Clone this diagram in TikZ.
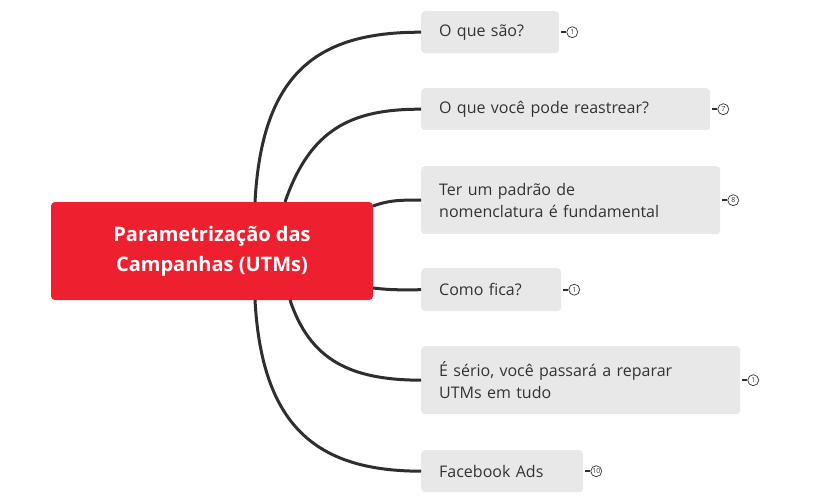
\documentclass[tikz,border=0pt]{standalone}
\usepackage{fontspec}
\usetikzlibrary{positioning}
\setmainfont{Open Sans}
\definecolor{boxg}{HTML}{E8E8E8}
\definecolor{redc}{HTML}{EE1F2F}
\definecolor{txt}{HTML}{333333}
\definecolor{lnc}{HTML}{2E2E2E}
\begin{document}
\begin{tikzpicture}[x=1pt,y=-1pt,
  sub/.style={fill=boxg,rounded corners=4pt,text=txt,anchor=north west,inner xsep=18pt,inner ysep=0pt,align=left,font=\fontsize{16}{22}\selectfont},
  conn/.style={draw=lnc,line width=3pt},
  badge/.style={circle,draw=txt,line width=0.7pt,fill=white,inner sep=0pt,minimum size=11pt,font=\fontsize{7}{7}\selectfont,text=txt}]
\useasboundingbox (0,0) rectangle (813,503);
\node[fill=redc,rounded corners=4pt,text=white,minimum width=322pt,minimum height=98pt,align=center,font=\fontsize{20}{30}\bfseries\selectfont] (c) at (212,251) {Parametrização das\\Campanhas (UTMs)};
\node[sub,text width=102pt,minimum height=42pt] (b1) at (421,11) {O que são?};
\node[sub,text width=253pt,minimum height=42pt] (b2) at (421,88) {O que você pode reastrear?};
\node[sub,text width=263pt,minimum height=68pt] (b3) at (421,166) {Ter um padrão de\\nomenclatura é fundamental};
\node[sub,text width=104pt,minimum height=43pt] (b4) at (421,268) {Como fica?};
\node[sub,text width=283pt,minimum height=68pt] (b5) at (421,346) {É sério, você passará a reparar\\UTMs em tudo};
\node[sub,text width=126pt,minimum height=42pt] (b6) at (421,450) {Facebook Ads};
\coordinate (s1) at (255,202);
\coordinate (s2) at (285,202);
\coordinate (s3) at (373,206);
\coordinate (s4) at (373,288);
\coordinate (s5) at (290,300);
\coordinate (s6) at (255,300);
\draw[conn] (s1) .. controls (262,70) and (320,32) .. (b1.west);
\draw[conn] (s2) .. controls (310,130) and (350,109) .. (b2.west);
\draw[conn] (s3) .. controls (390,200) and (400,200) .. (b3.west);
\draw[conn] (s4) .. controls (390,290) and (400,290) .. (b4.west);
\draw[conn] (s5) .. controls (310,360) and (350,380) .. (b5.west);
\draw[conn] (s6) .. controls (262,430) and (320,471) .. (b6.west);
\foreach \b/\n in {b1/1,b2/7,b3/8,b4/1,b5/1,b6/10}{
  \node[badge,right=7pt of \b.east] (n\b) {\n};
  \draw[lnc,line width=2pt] (\b.east) ++(2pt,0) -- (n\b.west);
}
\end{tikzpicture}
\end{document}
